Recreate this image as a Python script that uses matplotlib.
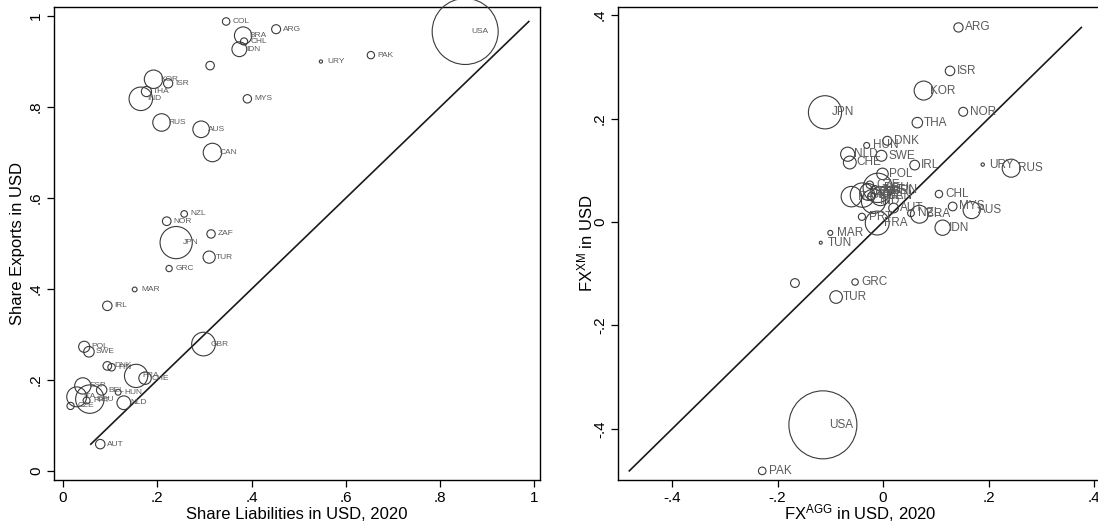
import matplotlib
matplotlib.use("Agg")
import matplotlib.pyplot as plt
import numpy as np

plt.rcParams['font.family'] = ['Liberation Sans', 'DejaVu Sans']
plt.rcParams['mathtext.fontset'] = 'custom'
plt.rcParams['mathtext.rm'] = 'Liberation Sans'
plt.rcParams['mathtext.it'] = 'Liberation Sans:italic'

# left panel: share of liabilities vs share of exports in USD (weights ~ GDP)
left_names = ['USA', 'COL', 'ARG', 'BRA', 'CHL', 'IDN', '', 'URY', 'PAK', 'KOR', 'ISR', 'THA',
              'IND', 'MYS', 'RUS', 'AUS', 'CAN', 'NZL', 'NOR', 'JPN', 'ZAF', 'TUR', 'GRC', 'MAR',
              'IRL', 'GBR', 'POL', 'SWE', 'DNK', 'FIN', 'FRA', 'CHE', 'ESP', 'BEL', 'HUN', 'NLD',
              'DEU', 'ITA', 'PRT', 'CZE', 'AUT']
left_x = [0.853, 0.346, 0.452, 0.382, 0.384, 0.374, 0.312, 0.547, 0.653, 0.192, 0.223, 0.177,
          0.165, 0.391, 0.209, 0.293, 0.317, 0.257, 0.220, 0.240, 0.314, 0.310, 0.225, 0.152,
          0.094, 0.298, 0.045, 0.055, 0.094, 0.103, 0.155, 0.174, 0.042, 0.082, 0.117, 0.129,
          0.057, 0.029, 0.050, 0.016, 0.079]
left_y = [0.966, 0.988, 0.971, 0.957, 0.944, 0.927, 0.891, 0.900, 0.914, 0.861, 0.852, 0.834,
          0.818, 0.818, 0.766, 0.751, 0.700, 0.565, 0.549, 0.502, 0.521, 0.470, 0.445, 0.399,
          0.363, 0.279, 0.273, 0.262, 0.231, 0.228, 0.209, 0.204, 0.187, 0.178, 0.173, 0.150,
          0.158, 0.163, 0.155, 0.143, 0.059]
left_w = [21.0, 0.27, 0.39, 1.45, 0.25, 1.06, 0.35, 0.05, 0.26, 1.64, 0.41, 0.50,
          2.66, 0.34, 1.48, 1.33, 1.65, 0.21, 0.36, 5.0, 0.34, 0.72, 0.19, 0.11,
          0.43, 2.7, 0.60, 0.54, 0.36, 0.27, 2.6, 0.75, 1.28, 0.52, 0.16, 0.91,
          3.9, 1.9, 0.23, 0.25, 0.43]

# right panel: FX aggregate exposure vs FX exposure of trade
right_names = ['ARG', 'ISR', 'KOR', 'NOR', 'THA', 'JPN', 'DNK', 'HUN', 'NLD', 'SWE', 'CHE', 'IRL',
               'POL', 'URY', 'RUS', 'CHL', 'MYS', 'AUS', 'NZL', 'BRA', 'IDN', 'FRA', 'PRT', 'MAR',
               'TUN', 'GRC', 'TUR', '', 'USA', 'PAK', 'ITA', 'GBR', 'DEU', 'IND', 'ESP', 'CAN',
               'CZE', 'BEL', 'AUT', 'FIN', 'ZAF', 'COL']
right_x = [0.143, 0.127, 0.077, 0.152, 0.065, -0.110, 0.008, -0.031, -0.067, -0.003, -0.063, 0.060,
           -0.001, 0.189, 0.243, 0.106, 0.132, 0.168, 0.053, 0.069, 0.113, -0.011, -0.040, -0.100,
           -0.118, -0.053, -0.089, -0.167, -0.114, -0.229, -0.060, -0.039, -0.010, -0.018, -0.028, -0.005,
           -0.025, 0.005, 0.020, 0.015, -0.015, -0.022]
right_y = [0.376, 0.292, 0.254, 0.213, 0.192, 0.212, 0.157, 0.148, 0.131, 0.128, 0.115, 0.110,
           0.093, 0.111, 0.104, 0.054, 0.030, 0.023, 0.017, 0.015, -0.011, -0.002, 0.010, -0.021,
           -0.040, -0.116, -0.145, -0.118, -0.392, -0.481, 0.049, 0.052, 0.066, 0.040, 0.058, 0.050,
           0.072, 0.060, 0.027, 0.062, 0.062, 0.050]
right_w = [0.39, 0.41, 1.64, 0.36, 0.50, 5.0, 0.36, 0.16, 0.91, 0.54, 0.75, 0.43,
           0.60, 0.05, 1.48, 0.25, 0.34, 1.33, 0.21, 1.45, 1.06, 2.6, 0.23, 0.11,
           0.04, 0.19, 0.72, 0.35, 21.0, 0.26, 1.9, 2.7, 3.9, 2.66, 1.28, 1.65,
           0.25, 0.52, 0.43, 0.27, 0.34, 0.27]


def bubbles(ax, names, xs, ys, w, rmax, fs):
    w = np.asarray(w)
    r = rmax * np.sqrt(w / w.max())       # radius in pixels
    s = (2 * r * 0.72) ** 2                # marker area in pt^2
    ax.scatter(xs, ys, s=s, facecolors='none', edgecolors='#3a3a3a',
               linewidths=0.8, clip_on=False, zorder=3)
    for n, x, y in zip(names, xs, ys):
        ax.annotate(n, (x, y), xytext=(4.8, 0), textcoords='offset points',
                    fontsize=fs, color='#5a5a5a', ha='left', va='center', zorder=4)
    lo, hi = min(ys), max(ys)
    ax.plot([lo, hi], [lo, hi], color='#1a1a1a', lw=1.2, zorder=2)


def style(ax):
    for sp in ax.spines.values():
        sp.set_linewidth(1.0)
        sp.set_color('black')
    ax.tick_params(direction='out', length=5, width=0.9, labelsize=11, pad=3)
    for lab in ax.get_yticklabels():
        lab.set_rotation(90)
        lab.set_va('center')


fig = plt.figure(figsize=(10.98, 5.25), dpi=100)

# left
ax1 = fig.add_axes([54 / 1098, 45 / 525, 486 / 1098, 473 / 525])
bubbles(ax1, left_names, left_x, left_y, left_w, 33, 6)
ax1.set_xlim(-0.0191, 1.0117)
ax1.set_ylim(-0.0198, 1.0198)
ax1.set_xticks([0, 0.2, 0.4, 0.6, 0.8, 1])
ax1.set_xticklabels(['0', '.2', '.4', '.6', '.8', '1'])
ax1.set_yticks([0, 0.2, 0.4, 0.6, 0.8, 1])
ax1.set_yticklabels(['0', '.2', '.4', '.6', '.8', '1'])
style(ax1)
ax1.set_xlabel('Share Liabilities in USD, 2020', fontsize=12, va='baseline')
ax1.xaxis.set_label_coords(0.5, -39 / 473)
ax1.set_ylabel('Share Exports in USD', fontsize=12, va='center')
ax1.yaxis.set_label_coords(-36.5 / 486, 0.5)

# right (its right edge runs just past the picture)
ax2 = fig.add_axes([618 / 1098, 45 / 525, 484 / 1098, 473 / 525])
bubbles(ax2, right_names, right_x, right_y, right_w, 34, 8.5)
ax2.set_xlim(-0.5024, 0.4151)
ax2.set_ylim(-0.4986, 0.4155)
ax2.set_xticks([-0.4, -0.2, 0, 0.2, 0.4])
ax2.set_xticklabels(['-.4', '-.2', '0', '.2', '.4'])
ax2.set_yticks([-0.4, -0.2, 0, 0.2, 0.4])
ax2.set_yticklabels(['-.4', '-.2', '0', '.2', '.4'])
style(ax2)
ax2.set_xlabel(r'FX$^{\mathrm{AGG}}$ in USD, 2020', fontsize=12, va='baseline')
ax2.xaxis.set_label_coords(0.5, -39 / 473)
ax2.set_ylabel(r'FX$^{\mathrm{XM}}$ in USD', fontsize=12, va='center')
ax2.yaxis.set_label_coords(-33 / 484, 0.5)

fig.savefig('out.png', dpi=100)
